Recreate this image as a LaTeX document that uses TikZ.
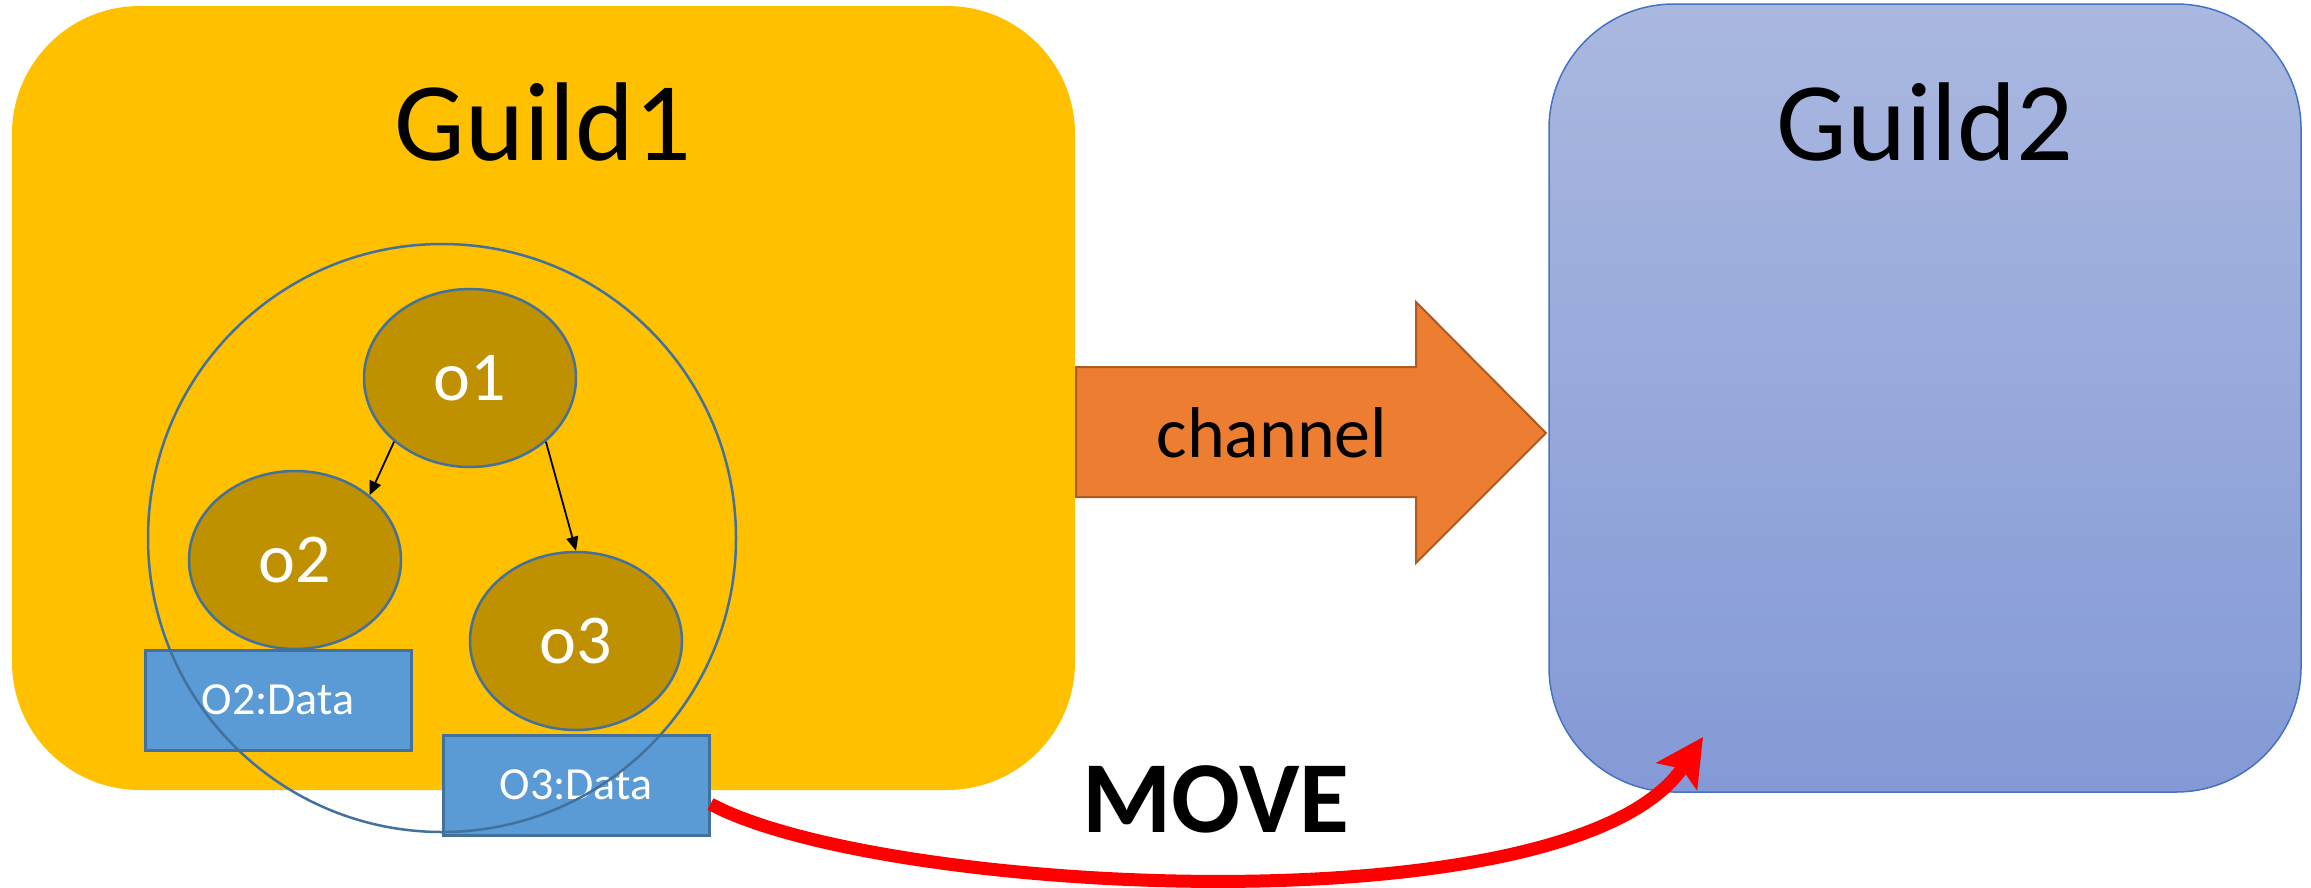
\documentclass[tikz,border=0pt]{standalone}
\usepackage{fontspec}
\setmainfont{Carlito}
\usetikzlibrary{arrows.meta,shapes.geometric}

\definecolor{guildgold}{HTML}{FFC000}
\definecolor{guildtop}{HTML}{AAB8E0}
\definecolor{guildbot}{HTML}{8499D6}
\definecolor{guildline}{HTML}{4472C4}
\definecolor{objfill}{HTML}{BF9000}
\definecolor{edgeblue}{HTML}{41719C}
\definecolor{datafill}{HTML}{5B9BD5}
\definecolor{chanfill}{HTML}{ED7D31}
\definecolor{chanline}{HTML}{AE5A21}

\tikzset{
  obj/.style={ellipse, draw=edgeblue, line width=2.5pt, fill=objfill, text=white,
    minimum width=212pt, minimum height=178pt, inner sep=0pt,
    font=\fontsize{70}{84}\selectfont},
  databox/.style={rectangle, draw=edgeblue, line width=3pt, fill=datafill, text=white,
    minimum width=266pt, minimum height=100pt, inner sep=0pt,
    font=\fontsize{46}{55}\selectfont},
  guildlbl/.style={anchor=base, inner sep=0pt, font=\fontsize{112}{130}\selectfont},
  ref/.style={-{Triangle[length=14pt,width=12pt]}, line width=1.8pt},
  movearrow/.style={-{Stealth[length=47pt,width=48pt,inset=9pt]}, red, line width=13pt}
}

\begin{document}
\begin{tikzpicture}[x=1pt,y=-1pt]
        \useasboundingbox (0,0) rectangle (2311,887);
        % the two guilds
        \fill[guildgold, rounded corners=128pt] (12,6) rectangle (1075,790);
        \shadedraw[top color=guildtop, bottom color=guildbot, draw=guildline, line width=1.5pt, rounded corners=125pt] (1549,4) rectangle (2301,792);
        \node[guildlbl] (g1label) at (543,160) {Guild1};
        \node[guildlbl] (g2label) at (1925,160) {Guild2};
        % channel
        \filldraw[fill=chanfill, draw=chanline, line width=2pt] (1076,367)--(1416,367)--(1416,302)--(1546,433)--(1416,563)--(1416,497)--(1076,497)--cycle;
        \node[anchor=base, inner sep=0pt, font=\fontsize{72}{86}\selectfont] (chan) at (1272,457) {channel};
        % objects
        \node[obj] (o1) at (470,378) {o1};
        \node[obj] (o2) at (295,560) {o2};
        \node[obj] (o3) at (576,641) {o3};
        \draw[ref] (o1.220) -- (o2.41);
        \draw[ref] (o1.320) -- (o3.90);
        \node[databox] (o2data) at (278,700) {O2:Data};
        \node[databox] (o3data) at (576,785) {O3:Data};
        \draw[edgeblue, line width=2.5pt] (442,538) circle (294);
        % move
        \coordinate (g2in) at (1703,737);
        \node[anchor=base, inner sep=0pt, font=\bfseries\fontsize{102}{120}\selectfont] (movelbl) at (1216,832) {MOVE};
        \draw[movearrow] ([yshift=-19pt]o3data.east) .. controls (880,895) and (1573,932) .. (g2in);
    \end{tikzpicture}
\end{document}
